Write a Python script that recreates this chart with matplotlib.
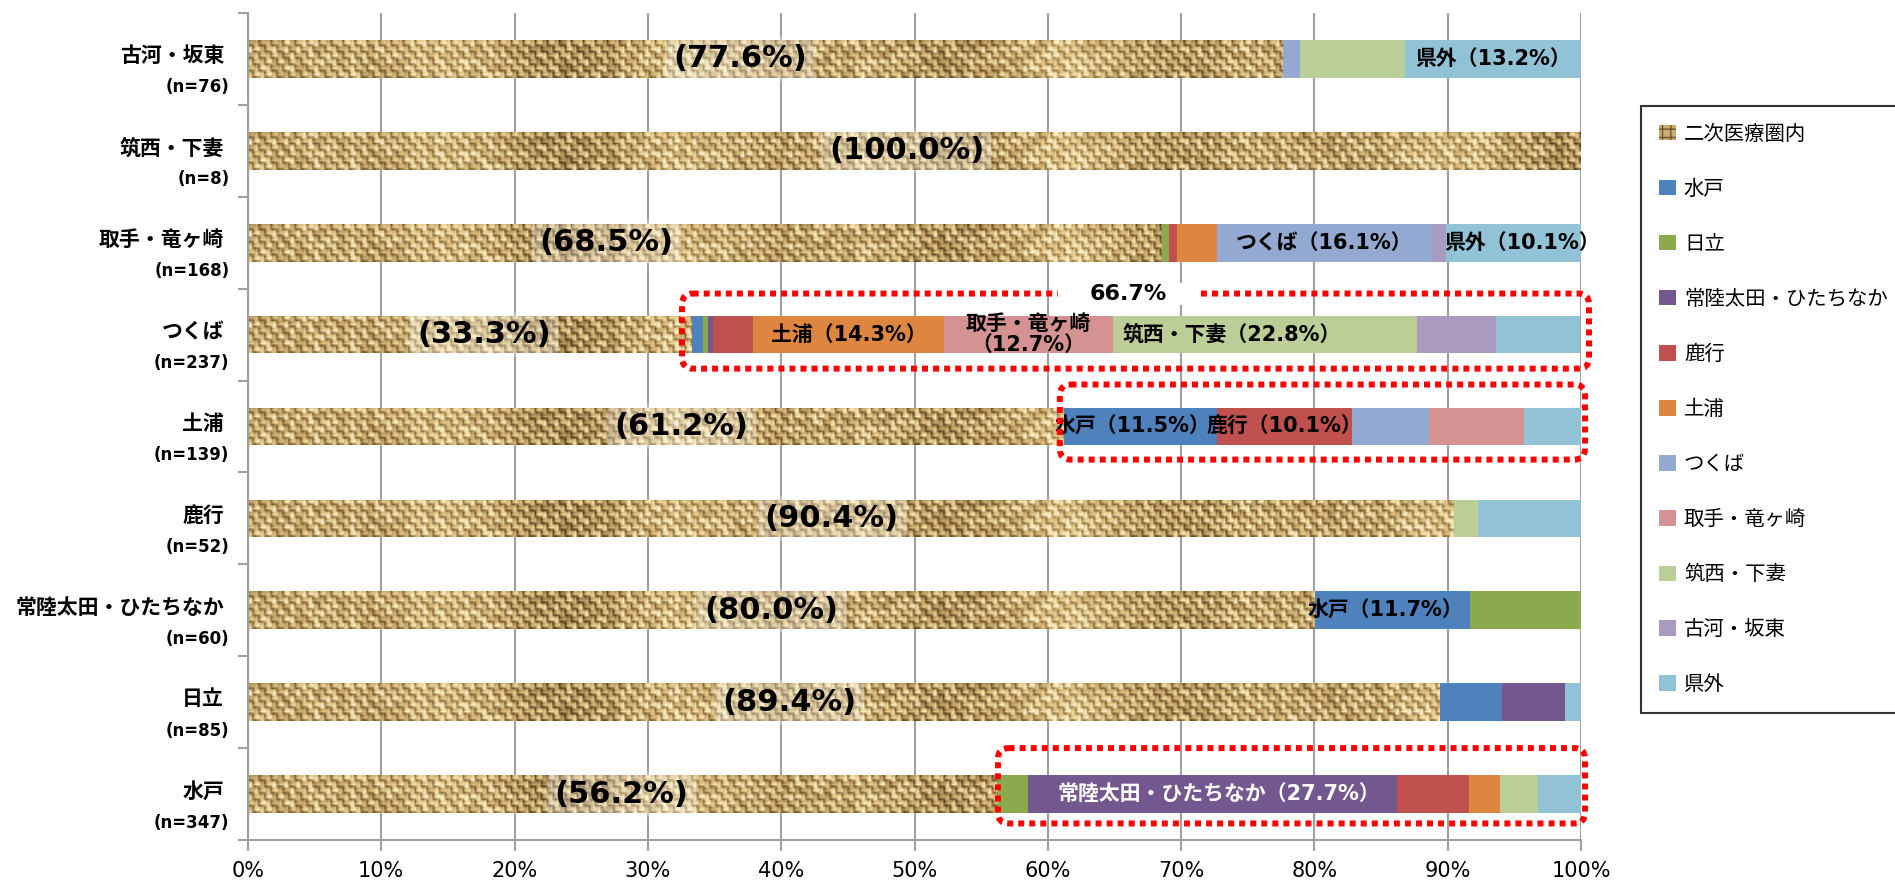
import numpy as np
import matplotlib
matplotlib.use("Agg")
import matplotlib.pyplot as plt
from matplotlib.patches import Patch, FancyBboxPatch, Rectangle
from matplotlib.colors import LinearSegmentedColormap
from matplotlib.ticker import PercentFormatter
import matplotlib.transforms as mtransforms

plt.rcParams['font.family'] = ['DejaVu Sans', 'Noto Sans CJK JP']

# rows, top to bottom
regions = ['古河・坂東', '筑西・下妻', '取手・竜ヶ崎', 'つくば', '土浦', '鹿行',
           '常陸太田・ひたちなか', '日立', '水戸']
n_counts = [76, 8, 168, 237, 139, 52, 60, 85, 347]

# share (%) of patients per destination
within      = [77.6, 100.0, 68.5, 33.3, 61.2, 90.4, 80.0, 89.4, 56.2]
mito        = [0, 0, 0, 0.8, 11.5, 0, 11.7, 4.7, 0]
hitachi     = [0, 0, 0.6, 0.4, 0, 0, 8.3, 0, 2.3]
hitachinaka = [0, 0, 0, 0.4, 0, 0, 0, 4.7, 27.7]
rokko       = [0, 0, 0.6, 3.0, 10.1, 0, 0, 0, 5.4]
tsuchiura   = [0, 0, 3.0, 14.3, 0, 0, 0, 0, 2.3]
tsukuba     = [1.3, 0, 16.1, 0, 5.8, 0, 0, 0, 0]
toride      = [0, 0, 0, 12.7, 7.1, 0, 0, 0, 0]
chikusei    = [7.9, 0, 0, 22.8, 0, 1.9, 0, 0, 2.9]
koga        = [0, 0, 1.1, 5.9, 0, 0, 0, 0, 0]
kengai      = [13.2, 0, 10.1, 6.3, 4.3, 7.7, 0, 1.2, 3.2]

series_names = ['水戸', '日立', '常陸太田・ひたちなか', '鹿行', '土浦', 'つくば',
                '取手・竜ヶ崎', '筑西・下妻', '古河・坂東', '県外']
series_vals = [mito, hitachi, hitachinaka, rokko, tsuchiura, tsukuba,
               toride, chikusei, koga, kengai]
colors = ['#4F81BD', '#8BAA4E', '#72588E', '#C0504D', '#DD8640', '#93A9D1',
          '#D49392', '#BBCE98', '#A99AC0', '#92C2D5']

# segment labels: (row, series, x shift, text colour)
seg_labels = [(0, '県外', 0.0, 'black'),
              (2, 'つくば', 0.0, 'black'), (2, '県外', 0.006, 'black'),
              (3, '土浦', 0.0, 'black'), (3, '取手・竜ヶ崎', 0.0, 'black'),
              (3, '筑西・下妻', -0.025, 'black'),
              (4, '水戸', -0.006, 'black'), (4, '鹿行', 0.0, 'black'),
              (6, '水戸', -0.005, 'black'),
              (8, '常陸太田・ひたちなか', 0.005, 'white')]
# x centre of the in-region labels
within_label_x = [0.369, 0.494, 0.269, 0.177, 0.325, 0.438, 0.393, 0.406, 0.280]


def hash2(a, b):
    s = np.sin(a * 12.9898 + b * 78.233) * 43758.5453
    return s - np.floor(s)


def weave(nrows, ncols):
    # burlap-like basket weave, purely decorative
    r = np.arange(nrows)[:, None]
    c = np.arange(ncols)[None, :]
    cell = 3
    ci, cj = r // cell, c // cell
    horiz = (ci + cj) % 2 == 0
    thread = np.where(horiz, r % cell, c % cell)
    along = np.where(horiz, c % cell, r % cell)
    v = np.array([0.78, 0.95, 0.35])[thread]
    v = v - 0.2 * (along == 0)
    v = v * (0.55 + 0.55 * hash2(ci, cj))
    v = v + 0.12 * np.sin(c * 0.05) * np.cos(c * 0.013 + 1.0)
    return np.clip(v, 0, 1)


burlap = LinearSegmentedColormap.from_list(
    'burlap', ['#4e3818', '#8f7040', '#c9aa6c', '#ead293', '#fbf1cc'])

fig = plt.figure(figsize=(18.95, 8.85), dpi=100)
ax = fig.add_axes([248 / 1895, 45 / 885, 1333 / 1895, 827 / 885])

y = np.arange(len(regions))
h = 0.41
ntex = 666
tex = weave(18, ntex)

w_frac = np.array(within) / 100
bars = ax.barh(y, w_frac, height=h, color='#C9AC72', zorder=2)
for i, b in enumerate(bars):
    ncol = int(np.ceil(w_frac[i] * ntex))
    im = ax.imshow(tex[:, :ncol], cmap=burlap, vmin=0, vmax=1,
                   extent=[0, ncol / ntex, y[i] + h / 2, y[i] - h / 2],
                   aspect='auto', interpolation='bilinear', zorder=2.5)
    im.set_clip_path(b)

left = w_frac.copy()
seg_pos = {}
for name, vals, col in zip(series_names, series_vals, colors):
    v = np.array(vals) / 100
    ax.barh(y, v, left=left, height=h, color=col, zorder=2)
    seg_pos[name] = (left.copy(), v)
    left = left + v

ax.set_xlim(0, 1)
ax.set_ylim(len(regions) - 0.5, -0.5)

# in-region labels
for i, val in enumerate(within):
    ax.text(within_label_x[i], y[i], f'({val:.1f}%)', ha='center', va='center',
            fontsize=22, fontweight='bold', zorder=5,
            bbox=dict(boxstyle='round,pad=0.25', fc='white', ec='none', alpha=0.3))

# segment labels
for row, name, dx, tc in seg_labels:
    l0, v = seg_pos[name]
    val = v[row] * 100
    txt = f'{name}（{val:.1f}%）'
    if name == '取手・竜ヶ崎':
        txt = f'{name}\n（{val:.1f}%）'
    ax.text(l0[row] + v[row] / 2 + dx, y[row], txt, ha='center', va='center',
            fontsize=15, fontweight='bold', color=tc, zorder=5, linespacing=1.05)

# y labels
trans = mtransforms.blended_transform_factory(ax.transAxes, ax.transData)
for i, (reg, n) in enumerate(zip(regions, n_counts)):
    ax.text(-0.018, y[i] - 0.03, reg, transform=trans, ha='right', va='center',
            fontsize=15, fontweight='bold')
    ax.text(-0.014, y[i] + 0.31, f'(n={n})', transform=trans, ha='right',
            va='center', fontsize=12, fontweight='bold')

# red dotted boxes
asp = 1333 / 91.9
for row, x0, x1, up, down in [(3, 0.3256, 1.006, 0.447, 0.37),
                              (4, 0.609, 1.003, 0.457, 0.36),
                              (8, 0.5626, 1.003, 0.50, 0.32)]:
    box = FancyBboxPatch((x0, y[row] - up), x1 - x0, up + down,
                         boxstyle='round,pad=0,rounding_size=0.008',
                         mutation_aspect=asp, fill=False, ec='#FF0000',
                         lw=4.3, ls=(0, (1, 0.85)), zorder=6, clip_on=False)
    ax.add_patch(box)

# share outside the region for つくば
ax.add_patch(Rectangle((0.6077, y[3] - 0.447 - 0.12), 0.104, 0.24,
                       fc='white', ec='none', zorder=7, clip_on=False))
ax.text(0.660, y[3] - 0.447, f'{100 - within[3]:.1f}%', ha='center', va='center',
        fontsize=16, fontweight='bold', zorder=8)

# axes styling
grey = '#A0A0A0'
ax.set_xticks(np.arange(0, 1.01, 0.1))
ax.xaxis.set_major_formatter(PercentFormatter(1.0, decimals=0))
ax.set_yticks(np.arange(-0.5, len(regions), 1.0))
ax.set_yticklabels([])
ax.tick_params(axis='x', length=8, width=1.5, color=grey, labelsize=15, pad=7)
ax.tick_params(axis='y', length=7, width=1.5, color=grey)
ax.grid(axis='x', color=grey, lw=1.5, zorder=0)
ax.set_axisbelow(True)
for s in ['top', 'right']:
    ax.spines[s].set_visible(False)
for s in ['left', 'bottom']:
    ax.spines[s].set_color(grey)
    ax.spines[s].set_linewidth(1.5)

# legend
handles = [Patch(fc='#C9AC72', ec='#6e5430', hatch='++', lw=0)]
handles += [Patch(fc=c, ec='none') for c in colors]
labels = ['二次医療圏内'] + series_names
leg = fig.legend(handles, labels, loc='upper left',
                 bbox_to_anchor=(1641 / 1895, 1 - 106 / 885),
                 fontsize=14.7, frameon=True, fancybox=False, edgecolor='black',
                 labelspacing=1.76, handlelength=0.8, handleheight=0.8,
                 handletextpad=0.4, borderpad=0.9, borderaxespad=0)
leg.get_frame().set_linewidth(1.5)

fig.savefig('out.png', dpi=100)
